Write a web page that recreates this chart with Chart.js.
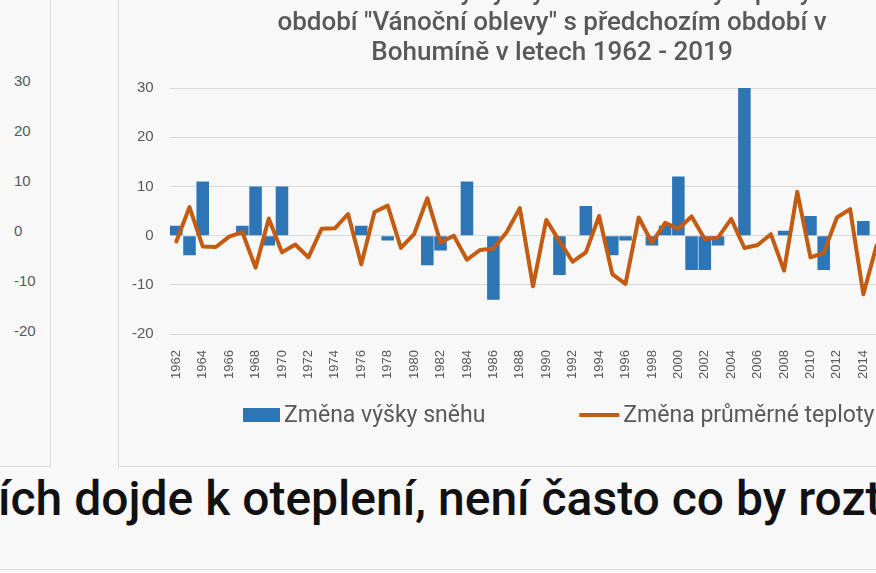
<!DOCTYPE html>
<html><head><meta charset="utf-8">
<script src="https://cdn.jsdelivr.net/npm/chart.js@4"></script>
<style>
html,body{margin:0;padding:0;background:#f8f8f8;width:876px;height:573px;overflow:hidden;position:relative;}
#leftPanel{position:absolute;left:-10px;top:-10px;width:61px;height:477px;border-right:1px solid #dadada;border-bottom:1px solid #dadada;box-sizing:border-box;}
.lt{position:absolute;left:24px;font:15px "Liberation Sans";color:#595959;transform:translateY(-50%);}
#frame{position:absolute;left:118px;top:-30px;width:866px;height:496px;border-left:1px solid #dadada;border-bottom:1px solid #dadada;}
#frame canvas{position:absolute;left:0;top:0;}
#para{position:absolute;left:-2px;top:470px;white-space:nowrap;font:500 48px Roboto;color:#111;}
#rule{position:absolute;left:0;top:569px;width:876px;height:1px;background:#dcdcdc;}
</style></head>
<body>
<div id="leftPanel"></div>
<div id="frame"><canvas id="c" width="866" height="496"></canvas></div>
<div id="para">ích dojde k oteplení, není často co by roztát</div>
<div id="rule"></div>
<script>
const years = ['1962','1963','1964','1965','1966','1967','1968','1969','1970','1971','1972','1973','1974','1975','1976','1977','1978','1979','1980','1981','1982','1983','1984','1985','1986','1987','1988','1989','1990','1991','1992','1993','1994','1995','1996','1997','1998','1999','2000','2001','2002','2003','2004','2005','2006','2007','2008','2009','2010','2011','2012','2013','2014','2015','2016','2017','2018','2019'];
const snowChange = [2,-4,11,0,0,2,10,-2,10,0,0,0,0,0,2,0,-1,0,0,-6,-3,0,11,0,-13,0,0,0,0,-8,0,6,0,-4,-1,0,-2,2,12,-7,-7,-2,0,30,0,0,1,0,4,-7,0,0,3,0,null,null,null,null];
const tempChange = [-1.2,5.8,-2.2,-2.3,-0.2,0.7,-6.5,3.5,-3.4,-1.8,-4.4,1.4,1.5,4.4,-5.8,4.8,6.1,-2.5,0.3,7.6,-1.4,0,-4.9,-2.9,-2.6,0.7,5.6,-10.3,3.2,-1.1,-5.3,-3.4,4.0,-7.8,-9.8,3.7,-1.4,2.6,1.4,3.9,-0.7,-0.4,3.4,-2.5,-1.9,0.3,-7.1,8.9,-4.4,-3.5,3.7,5.4,-11.9,-2,null,null,null,null];
const yMin = -20, yMax = 30, yStep = 10;
const leftAxisTicks = [30,20,10,0,-10,-20];
const titleLines = ['Porovnání změny výšky sněhu a změny teploty v','období "Vánoční oblevy" s předchozím období v','Bohumíně v letech 1962 - 2019'];
const seriesNames = ['Změna výšky sněhu','Změna průměrné teploty'];

// left fragment of neighbouring chart (axis labels only)
const lp = document.getElementById('leftPanel');
leftAxisTicks.forEach((t,i)=>{
  const s=document.createElement('span');
  s.className='lt'; s.textContent=t;
  s.style.top=(90+i*50)+'px';
  lp.appendChild(s);
});

// centre the title over the whole chart frame, like the original
const titleCenterPlugin = {
  id:'titleCenter',
  afterLayout(chart){
    const t=chart.titleBlock;
    if(t){ t.left=0; t.right=chart.width; t.width=chart.width; }
  }
};

const legendPlugin = {
  id:'excelLegend',
  afterDraw(chart){
    const ctx=chart.ctx, ds=chart.data.datasets;
    ctx.save();
    ctx.font='23px Roboto';
    ctx.textBaseline='middle';
    const y=445;
    let x=124;
    ctx.fillStyle=ds[0].backgroundColor;
    ctx.fillRect(x,y-7,37,14);
    x+=41;
    ctx.fillStyle='#595959';
    ctx.fillText(ds[0].label,x,y+1);
    x+=ctx.measureText(ds[0].label).width+94;
    ctx.strokeStyle=ds[1].borderColor;
    ctx.lineWidth=4;
    ctx.beginPath();ctx.moveTo(x,y);ctx.lineTo(x+40,y);ctx.stroke();
    x+=44;
    ctx.fillText(ds[1].label,x,y+1);
    ctx.restore();
  }
};

new Chart(document.getElementById('c'),{
  data:{
    labels:years,
    datasets:[
      {type:'bar',label:seriesNames[0],data:snowChange,backgroundColor:'#2e75b6',borderWidth:0,barPercentage:0.95,categoryPercentage:1.0,order:1},
      {type:'line',label:seriesNames[1],data:tempChange,borderColor:'#c55a11',backgroundColor:'#c55a11',borderWidth:4,pointRadius:0,tension:0,borderJoinStyle:'round',borderCapStyle:'round',order:0,spanGaps:false}
    ]
  },
  options:{
    responsive:false,
    animation:false,
    layout:{padding:{left:-3,right:49,top:0,bottom:79}},
    plugins:{
      legend:{display:false},
      tooltip:{enabled:false},
      title:{display:true,text:titleLines,color:'#595959',font:{family:'Roboto',size:26,weight:'500',lineHeight:1.154},padding:{top:8,bottom:20}}
    },
    scales:{
      x:{
        grid:{display:false},
        border:{display:false},
        ticks:{autoSkip:false,maxRotation:90,minRotation:90,padding:8,color:'#595959',font:{family:'Liberation Sans',size:13},
          callback:(v,i)=> i%2===0 ? years[i] : ''}
      },
      y:{
        min:yMin,max:yMax,
        grid:{color:'#d9d9d9',drawTicks:false},
        border:{display:false},
        ticks:{stepSize:yStep,padding:16,color:'#595959',font:{family:'Liberation Sans',size:15}}
      }
    }
  },
  plugins:[titleCenterPlugin,legendPlugin]
});
</script>
</body></html>
